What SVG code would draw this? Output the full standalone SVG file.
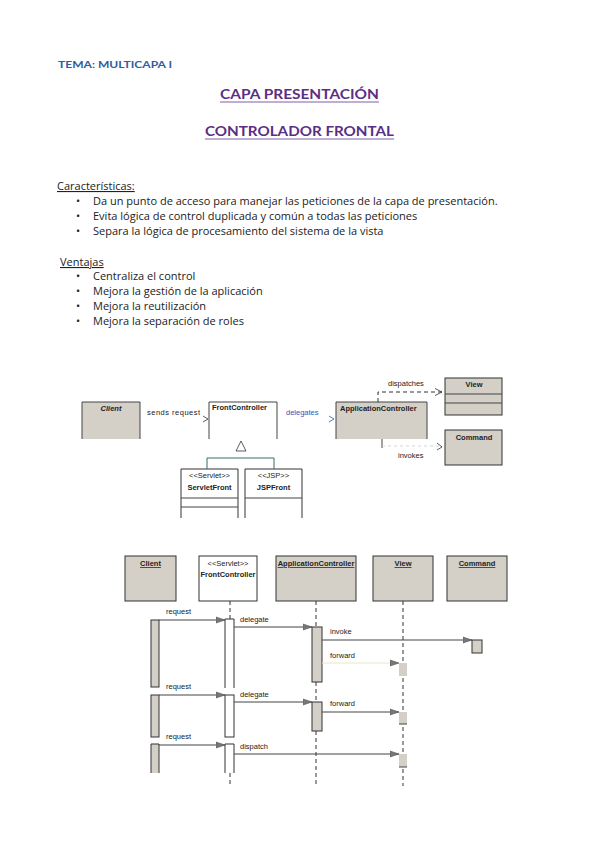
<svg xmlns="http://www.w3.org/2000/svg" width="599" height="848" viewBox="0 0 599 848">
<defs>
<style>
.doc{font-family:"Open Sans","Noto Sans",sans-serif;font-size:11px;fill:#222}
.hd{font-family:Lato,"Liberation Sans",sans-serif;font-weight:bold}
.sm{font-family:"Liberation Sans",Arial,sans-serif;font-size:7.5px;fill:#222}
.blue{fill:#3355bb}
.box{stroke:#333;stroke-width:1}
.g{fill:#d4d0c8}
.w{fill:#fff}
.ln{stroke:#444;stroke-width:1;fill:none}
.dash{stroke:#333;stroke-width:1;stroke-dasharray:4 3;fill:none}
.open{stroke:#333;stroke-width:0.8;fill:none}
</style>
<marker id="ah" markerWidth="10" markerHeight="8" refX="9" refY="4" orient="auto" markerUnits="userSpaceOnUse">
<path d="M0,1 L9,4 L0,7 Z" fill="#777" stroke="#555" stroke-width="0.6"/>
</marker>
<marker id="oa" markerWidth="8" markerHeight="8" refX="7" refY="4" orient="auto" markerUnits="userSpaceOnUse">
<path d="M0,0.5 L7,4 L0,7.5" fill="none" stroke="#333" stroke-width="0.8"/>
</marker>
</defs>
<rect width="599" height="848" fill="#fff"/>

<g id="header">
<text x="58" y="68" class="hd" font-size="10" fill="#2f5d9e" textLength="114" lengthAdjust="spacingAndGlyphs">TEMA: MULTICAPA I</text>
<text x="220" y="99" class="hd" font-size="13.5" fill="#5a2e86" textLength="159" lengthAdjust="spacingAndGlyphs">CAPA PRESENTACIÓN</text>
<line x1="220" y1="102" x2="379" y2="102" stroke="#7d5ea8" stroke-width="1"/>
<text x="205" y="136" class="hd" font-size="13.5" fill="#5a2e86" textLength="189" lengthAdjust="spacingAndGlyphs">CONTROLADOR FRONTAL</text>
<line x1="205" y1="139" x2="394" y2="139" stroke="#7d5ea8" stroke-width="1"/>
</g>

<g id="text">
<text x="57" y="190" class="doc" text-decoration="underline">Características:</text>
<text x="76" y="205" class="doc">•</text><text x="93" y="205" class="doc">Da un punto de acceso para manejar las peticiones de la capa de presentación.</text>
<text x="76" y="220" class="doc">•</text><text x="93" y="220" class="doc">Evita lógica de control duplicada y común a todas las peticiones</text>
<text x="76" y="235" class="doc">•</text><text x="93" y="235" class="doc">Separa la lógica de procesamiento del sistema de la vista</text>
<text x="60" y="266" class="doc" text-decoration="underline">Ventajas</text>
<text x="76" y="280" class="doc">•</text><text x="93" y="280" class="doc">Centraliza el control</text>
<text x="76" y="295" class="doc">•</text><text x="93" y="295" class="doc">Mejora la gestión de la aplicación</text>
<text x="76" y="310" class="doc">•</text><text x="93" y="310" class="doc">Mejora la reutilización</text>
<text x="76" y="325" class="doc">•</text><text x="93" y="325" class="doc">Mejora la separación de roles</text>
</g>

<!-- Class diagram -->
<g id="c-client">
<rect x="82" y="402" width="58" height="37" class="g"/>
<path d="M82,439 V402 H140 V439" class="ln" stroke="#333"/>
<text x="111" y="411" class="sm" font-style="italic" font-weight="bold" text-anchor="middle">Client</text>
</g>
<g id="c-front">
<rect x="209" y="402" width="68" height="37" class="w"/>
<path d="M209,439 V402 H277 V439" class="ln" stroke="#333"/>
<text x="212" y="410" class="sm" font-weight="bold">FrontController</text>
</g>
<g id="c-app">
<rect x="336" y="402" width="91" height="37" class="g"/>
<path d="M336,439 V402 H427 V439" class="ln" stroke="#333"/>
<text x="340" y="411" class="sm" font-weight="bold">ApplicationController</text>
</g>
<g id="c-view">
<rect x="445" y="378" width="57" height="37" class="g box"/>
<line x1="445" y1="394" x2="502" y2="394" class="ln"/>
<line x1="445" y1="403" x2="502" y2="403" class="ln"/>
<text x="474" y="387" class="sm" text-anchor="middle" font-weight="bold">View</text>
</g>
<g id="c-command">
<rect x="445" y="430" width="57" height="35" class="g box"/>
<text x="474" y="440" class="sm" text-anchor="middle" font-weight="bold">Command</text>
</g>
<g id="c-servlet">
<path d="M181,518 V469 H238 V518" class="w" stroke="#333"/>
<line x1="181" y1="498" x2="238" y2="498" class="ln"/>
<line x1="181" y1="507" x2="238" y2="507" class="ln"/>
<text x="209.5" y="478" class="sm" text-anchor="middle">&lt;&lt;Servlet&gt;&gt;</text>
<text x="209.5" y="490" class="sm" text-anchor="middle" font-weight="bold">ServletFront</text>
</g>
<g id="c-jsp">
<path d="M245,518 V469 H302 V518" class="w" stroke="#333"/>
<line x1="245" y1="498" x2="302" y2="498" class="ln"/>
<text x="273.5" y="478" class="sm" text-anchor="middle">&lt;&lt;JSP&gt;&gt;</text>
<text x="273.5" y="490" class="sm" text-anchor="middle" font-weight="bold">JSPFront</text>
</g>

<g id="c-connectors">
<text x="147" y="415" class="sm" letter-spacing="0.5">sends request</text>
<path d="M203,416 L208,419 L203,422" class="open"/>
<text x="286" y="415" class="sm blue">delegates</text>
<path d="M329,416 L334,419 L329,422" class="open" style="stroke:#3355bb"/>
<path d="M378,402 V392 H442" class="dash" marker-end="url(#oa)"/>
<text x="388" y="386" class="sm">dispatches</text>
<path d="M382,439 V448" class="ln"/>
<path d="M382,446 H442" stroke="#ccc" stroke-width="0.8" stroke-dasharray="3 3" fill="none"/>
<path d="M437,443 L442,447 L437,450" class="open"/>
<text x="398" y="458" class="sm">invokes</text>
<path d="M241,441 L246,451 L236,451 Z" fill="#fff" stroke="#333" stroke-width="0.8"/>
<path d="M207,469 V458 H274 V469" stroke="#3a6a6a" stroke-width="1" fill="none"/>
</g>

<!-- Sequence diagram -->
<g id="s-client">
<rect x="125" y="556" width="51" height="45" class="g box"/>
<text x="150.5" y="566" class="sm" text-anchor="middle" font-weight="bold" text-decoration="underline">Client</text>
<rect x="151" y="620" width="8" height="67" class="g box"/>
<rect x="151" y="695" width="8" height="42" class="g box"/>
<path d="M151,773 V744 H159 V773" class="g box"/>
</g>
<g id="s-front">
<rect x="199" y="556" width="58" height="45" class="w box"/>
<text x="228" y="566" class="sm" text-anchor="middle">&lt;&lt;Servlet&gt;&gt;</text>
<text x="228" y="577" class="sm" text-anchor="middle" font-size="6.5" font-weight="bold">FrontController</text>
<line x1="230" y1="601" x2="230" y2="619" class="dash"/>
<path d="M225,688 V619 H234 V688" class="w box"/>
<rect x="225" y="695" width="9" height="42" class="w box"/>
<path d="M225,773 V744 H234 V773" class="w box"/>
<line x1="230" y1="773" x2="230" y2="786" class="dash"/>
</g>
<g id="s-app">
<rect x="276" y="556" width="80" height="45" class="g box"/>
<text x="316" y="566" class="sm" text-anchor="middle" font-weight="bold" text-decoration="underline">ApplicationController</text>
<line x1="316" y1="601" x2="316" y2="627" class="dash"/>
<rect x="312" y="627" width="10" height="55" class="g box"/>
<line x1="316" y1="682" x2="316" y2="702" class="dash"/>
<rect x="312" y="702" width="10" height="29" class="g box"/>
<line x1="316" y1="731" x2="316" y2="786" class="dash"/>
</g>
<g id="s-view">
<rect x="373" y="556" width="60" height="45" class="g box"/>
<text x="403" y="566" class="sm" text-anchor="middle" font-weight="bold" text-decoration="underline">View</text>
<line x1="403" y1="601" x2="403" y2="786" class="dash"/>
<rect x="399" y="663" width="8" height="13" fill="#d4d0c8"/>
<rect x="399" y="712" width="8" height="12" fill="#d4d0c8"/>
<line x1="399" y1="724" x2="407" y2="724" class="ln"/>
<rect x="399" y="754" width="8" height="13" fill="#d4d0c8"/>
<line x1="399" y1="767" x2="407" y2="767" class="ln"/>
</g>
<g id="s-command">
<rect x="447" y="556" width="60" height="45" class="g box"/>
<text x="477" y="566" class="sm" text-anchor="middle" font-weight="bold" text-decoration="underline">Command</text>
<rect x="472" y="640" width="10" height="13" class="g box"/>
</g>

<g id="s-connectors">
<text x="166" y="614" class="sm">request</text>
<line x1="159" y1="620" x2="225" y2="620" class="ln" marker-end="url(#ah)"/>
<text x="240" y="622" class="sm">delegate</text>
<line x1="234" y1="627" x2="312" y2="627" class="ln" marker-end="url(#ah)"/>
<text x="330" y="634" class="sm">invoke</text>
<line x1="322" y1="640" x2="472" y2="640" class="ln" marker-end="url(#ah)"/>
<text x="330" y="658" class="sm">forward</text>
<line x1="322" y1="663" x2="399" y2="663" stroke="#e8e8c8" stroke-width="1" marker-end="url(#ah)"/>
<text x="166" y="689" class="sm">request</text>
<line x1="159" y1="695" x2="225" y2="695" class="ln" marker-end="url(#ah)"/>
<text x="240" y="697" class="sm">delegate</text>
<line x1="234" y1="702" x2="312" y2="702" class="ln" marker-end="url(#ah)"/>
<text x="330" y="706" class="sm">forward</text>
<line x1="322" y1="712" x2="399" y2="712" class="ln" marker-end="url(#ah)"/>
<text x="166" y="739" class="sm">request</text>
<line x1="159" y1="745" x2="225" y2="745" class="ln" marker-end="url(#ah)"/>
<text x="240" y="749" class="sm">dispatch</text>
<line x1="234" y1="754" x2="399" y2="754" class="ln" marker-end="url(#ah)"/>
</g>
</svg>
